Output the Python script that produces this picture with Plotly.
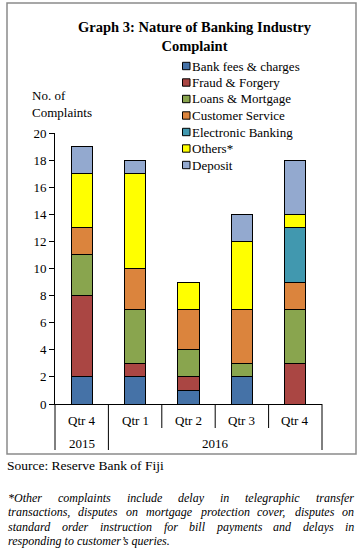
import plotly.graph_objects as go

# ---- data ----
quarters = ["Qtr 4", "Qtr 1", "Qtr 2", "Qtr 3", "Qtr 4"]
years = ["2015", "2016", "2016", "2016", "2016"]
series_names = ["Bank fees & charges", "Fraud & Forgery", "Loans & Mortgage",
                "Customer Service", "Electronic Banking", "Others*", "Deposit"]
bank_fees = [2, 2, 1, 2, 0]
fraud = [6, 1, 1, 0, 3]
loans = [3, 4, 2, 1, 4]
customer = [2, 3, 3, 4, 2]
electronic = [0, 0, 0, 0, 4]
others = [4, 7, 2, 5, 1]
deposit = [2, 1, 0, 2, 4]
series_values = [bank_fees, fraud, loans, customer, electronic, others, deposit]
colors = ["#4572A7", "#AA4643", "#89A54E", "#DB843D", "#4198AF", "#FFFF00", "#93A9CF"]

footnote_lines = [
    "*Other complaints include delay in telegraphic transfer",
    "transactions, disputes on mortgage protection cover, disputes on",
    "standard order instruction for bill payments and delays in",
    "responding to customer\u2019s queries.",
]

# ---- layout geometry ----
W, H = 364, 552
L, R, T, B = 55, 42, 133, 148
PW, PH = W - L - R, H - T - B
SERIF = "Liberation Serif"


def px(X):
    return (X - L) / PW


def py(Y):
    return (H - B - Y) / PH


# approximate Times-Italic advance widths (per 1000 em) for justification
TI = {' ': 250, '*': 500, ',': 250, '.': 250, '\u2019': 333, "'": 333, 'O': 722,
      'a': 500, 'b': 500, 'c': 444, 'd': 500, 'e': 444, 'f': 278, 'g': 500, 'h': 500,
      'i': 278, 'j': 278, 'k': 444, 'l': 278, 'm': 722, 'n': 500, 'o': 500, 'p': 500,
      'q': 500, 'r': 389, 's': 389, 't': 278, 'u': 500, 'v': 444, 'w': 667, 'x': 444,
      'y': 444, 'z': 389}


def tw(s, size):
    return sum(TI.get(c, 500) for c in s) * size / 1000.0


cat_ids = [f"{q} {y} #{i}" for i, (q, y) in enumerate(zip(quarters, years))]

fig = go.Figure()
for name, vals, col in zip(series_names, series_values, colors):
    fig.add_trace(go.Bar(
        x=cat_ids, y=vals, name=name,
        marker=dict(color=col, line=dict(color="black", width=1)),
        showlegend=False,
    ))

shapes = []
annotations = []

# outer frame
shapes.append(dict(type="rect", xref="paper", yref="paper",
                   x0=px(7), x1=px(356), y0=py(454), y1=py(3),
                   line=dict(color="#8a8a8a", width=1.5), layer="below"))

# category table dividers
n = len(quarters)
for k in range(n + 1):
    full = k == 0 or k == n or years[k] != years[k - 1]
    shapes.append(dict(type="line", xref="paper", yref="paper",
                       x0=k / n, x1=k / n, y0=0, y1=py(450 if full else 428),
                       line=dict(color="black", width=1)))

for i, q in enumerate(quarters):
    annotations.append(dict(x=(i + 0.5) / n, y=py(420), xref="paper", yref="paper",
                            text=q, showarrow=False, xanchor="center", yanchor="middle",
                            font=dict(family=SERIF, size=13, color="black")))
# year group labels
groups = []
for i, y in enumerate(years):
    if groups and groups[-1][0] == y:
        groups[-1][2] = i
    else:
        groups.append([y, i, i])
for y, a, b in groups:
    annotations.append(dict(x=(a + b + 1) / 2 / n, y=py(443), xref="paper", yref="paper",
                            text=y, showarrow=False, xanchor="center", yanchor="middle",
                            font=dict(family=SERIF, size=13, color="black")))

# title
annotations.append(dict(x=px(195), y=py(36.5), xref="paper", yref="paper",
                        text="<b>Graph 3: Nature of Banking Industry<br>Complaint</b>",
                        showarrow=False, xanchor="center", yanchor="middle", align="center",
                        font=dict(family=SERIF, size=14.5, color="black")))

# y axis title
annotations.append(dict(x=px(32), y=py(103.5), xref="paper", yref="paper",
                        text="No. of<br>Complaints", showarrow=False,
                        xanchor="left", yanchor="middle", align="left",
                        borderpad=0, borderwidth=0,
                        font=dict(family=SERIF, size=13, color="black")))

# legend (custom)
for i, (name, col) in enumerate(zip(series_names, colors)):
    yc = 66 + 16.5 * i
    shapes.append(dict(type="rect", xref="paper", yref="paper",
                       x0=px(182.5), x1=px(190), y0=py(yc + 3.7), y1=py(yc - 3.7),
                       fillcolor=col, line=dict(color="black", width=1)))
    annotations.append(dict(x=px(192), y=py(yc), xref="paper", yref="paper",
                            text=name, showarrow=False, xanchor="left", yanchor="middle",
                            borderpad=0, borderwidth=0,
                            font=dict(family=SERIF, size=13, color="black")))

# source
annotations.append(dict(x=px(7), y=py(465), xref="paper", yref="paper",
                        text="Source: Reserve Bank of Fiji", showarrow=False,
                        xanchor="left", yanchor="middle", borderpad=0, borderwidth=0,
                        font=dict(family=SERIF, size=13.5, color="black")))

# footnote: justified word by word (last line left aligned)
FS = 12
X0, X1 = 8, 354
for li, line in enumerate(footnote_lines):
    yc = 498 + 14.3 * li
    font = dict(family=SERIF, size=FS, color="black")
    if li == len(footnote_lines) - 1:
        annotations.append(dict(x=px(X0), y=py(yc), xref="paper", yref="paper",
                                text=f"<i>{line}</i>", showarrow=False,
                                xanchor="left", yanchor="middle",
                                borderpad=0, borderwidth=0, font=font))
        continue
    words = line.split(" ")
    widths = [tw(w, FS) for w in words]
    gap = (X1 - X0 - sum(widths)) / (len(words) - 1)
    x = X0
    for j, (w, wd) in enumerate(zip(words, widths)):
        last = j == len(words) - 1
        annotations.append(dict(x=px(X1 if last else x), y=py(yc), xref="paper", yref="paper",
                                text=f"<i>{w}</i>", showarrow=False,
                                xanchor="right" if last else "left", yanchor="middle",
                                borderpad=0, borderwidth=0, font=font))
        x += wd + gap

fig.update_layout(
    template="none",
    width=W, height=H,
    margin=dict(l=L, r=R, t=T, b=B, autoexpand=False),
    paper_bgcolor="white", plot_bgcolor="white",
    barmode="stack", bargap=0.6,
    showlegend=False,
    shapes=shapes,
    annotations=annotations,
    xaxis=dict(type="category", range=[-0.5, n - 0.5], showline=True, linecolor="black",
               linewidth=1, showticklabels=False, ticks="", showgrid=False,
               zeroline=False, fixedrange=True),
    yaxis=dict(range=[0, 20], dtick=2, tick0=0, showline=True, linecolor="black",
               linewidth=1, ticks="outside", ticklen=5, tickcolor="black",
               showgrid=False, zeroline=False,
               tickfont=dict(family=SERIF, size=13, color="black"), fixedrange=True),
)

fig.write_html("out.html", config={"displayModeBar": False},
               post_script="document.body.style.margin='0';document.body.style.overflow='hidden';")
